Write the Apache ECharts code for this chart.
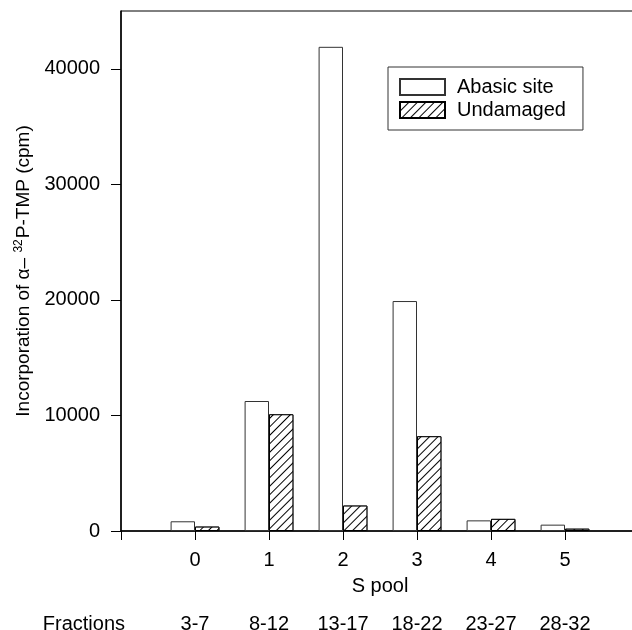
<!DOCTYPE html>
<html>
<head>
<meta charset="utf-8">
<script src="https://cdn.jsdelivr.net/npm/echarts@6/dist/echarts.min.js"></script>
<style>
  html, body { margin: 0; padding: 0; background: #fff; }
  #chart { width: 632px; height: 630px; }
</style>
</head>
<body>
<div id="chart"></div>
<script>
// ---- data ----
const poolCats = ['0', '1', '2', '3', '4', '5'];
const fractions = ['3-7', '8-12', '13-17', '18-22', '23-27', '28-32'];
const abasic = [840, 11250, 41900, 19900, 920, 550];
const undamaged = [380, 10100, 2200, 8200, 1050, 200];
const yTicks = [0, 10000, 20000, 30000, 40000];

// ---- build padded axes (one empty slot each side) ----
const xData = [''].concat(poolCats, ['']);
const fracData = [''].concat(fractions, ['']);
const pad = arr => ['-'].concat(arr, ['-']);

const FONT = '"Liberation Sans", Arial, Helvetica, sans-serif';
const chart = echarts.init(document.getElementById('chart'), null, { renderer: 'canvas' });

chart.setOption({
  animation: false,
  backgroundColor: '#fff',
  textStyle: { fontFamily: FONT, color: '#000' },
  grid: {
    left: 121, top: 11, width: 518, height: 520,
    outerBoundsMode: 'none', containLabel: false,
    show: true, borderColor: '#000', borderWidth: 1, backgroundColor: 'transparent'
  },
  legend: {
    left: 388, top: 67,
    orient: 'vertical',
    itemWidth: 45, itemHeight: 16, itemGap: 3,
    padding: [10, 17, 10, 11],
    borderColor: '#333', borderWidth: 1,
    icon: 'rect',
    textStyle: { fontFamily: FONT, fontSize: 20, color: '#000', padding: [0, 0, 0, 7], lineHeight: 20 },
    data: ['Abasic site', 'Undamaged']
  },
  xAxis: [{
    type: 'category',
    data: xData,
    boundaryGap: false,
    position: 'bottom',
    axisLine: { lineStyle: { color: '#000', width: 1.5 } },
    axisTick: { show: true, length: 9, lineStyle: { color: '#000' }, interval: 0 },
    axisLabel: { interval: 0, fontSize: 20, color: '#000', margin: 19, fontFamily: FONT },
    name: 'S pool',
    nameLocation: 'middle',
    nameGap: 45,
    nameTextStyle: { fontSize: 20, color: '#000', fontFamily: FONT },
    splitLine: { show: false }
  }, {
    type: 'category',
    data: fracData,
    boundaryGap: false,
    position: 'bottom',
    offset: 83,
    axisLine: { show: false },
    axisTick: { show: false },
    axisLabel: { interval: 0, fontSize: 20, color: '#000', margin: 0, fontFamily: FONT },
    name: 'Fractions',
    nameLocation: 'start',
    nameGap: -4,
    nameTextStyle: { fontSize: 20, color: '#000', fontFamily: FONT, verticalAlign: 'top' },
    splitLine: { show: false }
  }],
  yAxis: {
    type: 'value',
    min: 0, max: 45000, interval: 10000,
    axisLine: { show: true, lineStyle: { color: '#000', width: 1.5 } },
    axisTick: { show: true, length: 10, lineStyle: { color: '#000' }, customValues: yTicks },
    axisLabel: {
      fontSize: 20, color: '#000', margin: 21, fontFamily: FONT, customValues: yTicks,
      formatter: v => String(v)
    },
    splitLine: { show: false },
    name: '{a|Incorporation of α– }{sup|32}{a|P-TMP (cpm)}',
    nameLocation: 'middle',
    nameRotate: 90,
    nameGap: 86,
    nameTextStyle: {
      fontFamily: FONT, fontSize: 19, color: '#000',
      rich: {
        a: { fontFamily: FONT, fontSize: 19, color: '#000' },
        sup: { fontFamily: FONT, fontSize: 12, color: '#000', padding: [0, 1, 10, 0] }
      }
    }
  },
  series: [{
    name: 'Abasic site',
    type: 'bar',
    data: pad(abasic),
    barWidth: 24.4,
    barGap: '0%',
    itemStyle: { color: '#fff', borderColor: '#333', borderWidth: 1 }
  }, {
    name: 'Undamaged',
    type: 'bar',
    data: pad(undamaged),
    barWidth: 24.4,
    barGap: '0%',
    itemStyle: {
      color: '#fff', borderColor: '#000', borderWidth: 1,
      decal: {
        symbol: 'rect', symbolSize: 1,
        dashArrayX: [1, 0], dashArrayY: [1, 5],
        rotation: -Math.PI / 4,
        color: '#000', backgroundColor: '#fff'
      }
    }
  }]
});
</script>
</body>
</html>
